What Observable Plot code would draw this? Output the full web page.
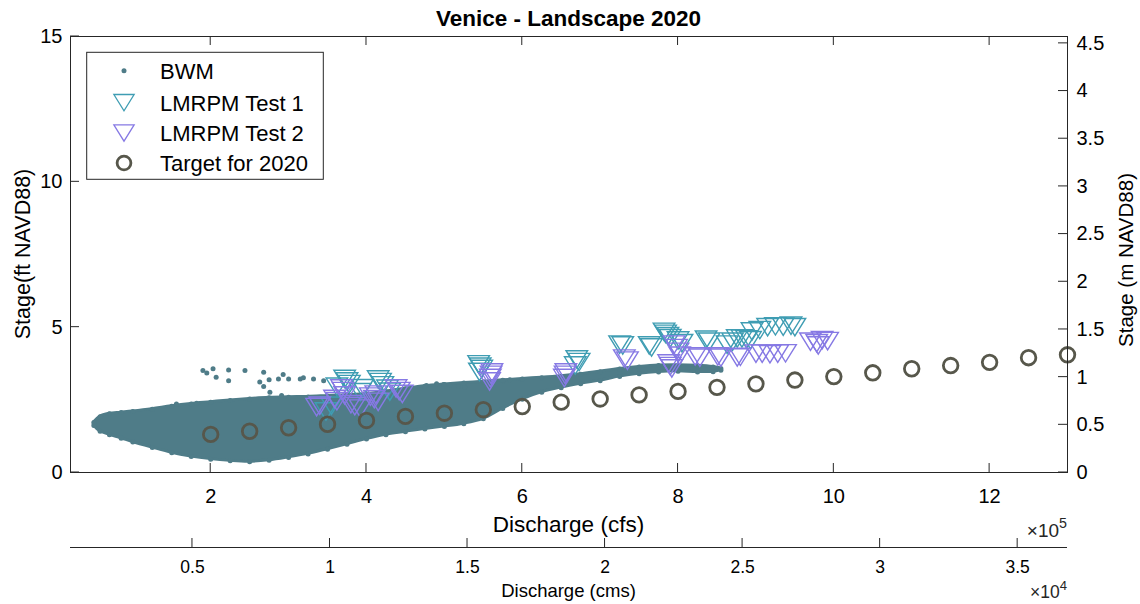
<!DOCTYPE html>
<html>
<head>
<meta charset="utf-8">
<script src="https://cdn.jsdelivr.net/npm/d3@7"></script>
<script src="https://cdn.jsdelivr.net/npm/@observablehq/plot@0.6"></script>
<style>
  body { margin: 0; background: #fff; font-family: "Liberation Sans", Arial, Helvetica, sans-serif; }
  #wrap { position: relative; width: 1140px; height: 604px; overflow: hidden; }
  #title { position: absolute; top: 6px; left: 0; width: 1137px; text-align: center;
           font-weight: bold; font-size: 22.5px; line-height: 25px; color: #000; }
  #chart { position: absolute; top: 30px; left: 0; }
</style>
</head>
<body>
<div id="wrap">
  <div id="title">Venice - Landscape 2020</div>
  <div id="chart"></div>
</div>
<script>
// ---------------- data ----------------
// x in 1e5 cfs, y in ft NAVD88
const cloudX    = [0.50,0.58,0.70,0.85,1.00,1.25,1.50,1.75,2.00,2.25,2.50,2.75,3.00,3.25,3.50,3.75,4.00,4.25,4.50,4.75,5.00,5.25,5.50,5.75,6.00,6.25,6.50,6.75,7.00,7.25,7.50,7.75,8.00,8.25,8.45,8.55];
const cloudHigh = [1.72,1.92,2.02,2.06,2.10,2.18,2.28,2.36,2.42,2.48,2.53,2.57,2.59,2.60,2.63,2.66,2.70,2.78,2.88,2.97,3.03,3.08,3.12,3.17,3.22,3.26,3.31,3.38,3.47,3.56,3.63,3.68,3.69,3.67,3.63,3.58];
const cloudLow  = [1.62,1.42,1.30,1.18,1.05,0.86,0.68,0.55,0.46,0.40,0.37,0.42,0.52,0.64,0.80,0.97,1.15,1.30,1.40,1.50,1.58,1.68,1.85,2.20,2.52,2.76,2.92,3.05,3.16,3.30,3.40,3.46,3.48,3.46,3.47,3.52];

const bwmOutX = [1.90,1.95,2.03,2.07,2.23,2.23,2.44,2.68,2.63,2.68,2.76,2.75,2.87,2.93,3.00,3.15,3.19,3.32,3.45,1.56,1.82,2.91,4.77,4.90,4.99,5.07,5.18,5.26,5.63,5.76,5.84];
const bwmOutY = [3.51,3.42,3.57,3.28,3.53,3.16,3.51,3.45,3.11,2.96,2.76,3.19,3.22,3.37,3.22,3.22,3.26,3.22,3.16,2.36,2.38,2.65,2.99,3.05,3.03,2.99,2.96,2.93,3.11,3.16,3.19];

const test1X = [3.72,3.75,3.78,3.62,3.95,3.92,4.15,4.18,4.21,4.27,4.30,3.48,3.55,
                5.44,5.46,5.48,5.45, 6.70,6.73,6.68,
                7.25,7.29,7.63,7.66,7.82,7.84,7.87,7.90,8.00,8.05,8.36,8.40,8.63,8.70,8.76,8.82,8.88,8.93,
                8.95,9.05,9.15,9.25,9.35,9.45,9.50];
const test1Y = [3.22,3.13,3.04,2.95,2.90,2.76,3.20,3.11,3.00,2.88,2.78,2.10,2.30,
                3.72,3.64,3.56,3.46, 3.89,3.80,3.68,
                4.40,4.37,4.37,4.30,4.84,4.77,4.69,4.62,4.54,4.45,4.57,4.50,4.40,4.50,4.61,4.61,4.58,4.55,
                4.85,4.90,5.00,5.03,5.02,5.05,5.00];

const test2X = [3.36,3.40,3.59,3.62,3.68,3.70,3.72,3.80,3.85,3.92,4.05,4.10,4.15,4.12,4.38,4.42,4.46,
                5.61,5.60,5.59,5.58, 6.56,6.55,6.54,
                7.31,7.35,7.88,7.90,7.92,7.95,7.98,8.00,8.02,8.22,8.28,8.51,8.55,8.76,8.80,
                9.00,9.08,9.18,9.28,9.38,9.70,9.78,9.85,9.92,9.80];
const test2Y = [2.25,2.30,2.53,2.45,2.89,2.80,2.65,2.35,2.28,2.20,2.61,2.52,2.43,2.68,2.89,2.80,2.70,
                3.44,3.36,3.25,3.13, 3.44,3.36,3.25,
                3.92,3.85,3.75,3.66,3.58,4.40,4.28,4.15,4.02,3.99,3.95,3.99,3.95,3.96,3.98,
                4.09,4.09,4.07,4.09,4.10,4.50,4.45,4.55,4.52,4.37];

const targetX = [2,2.5,3,3.5,4,4.5,5,5.5,6,6.5,7,7.5,8,8.5,9,9.5,10,10.5,11,11.5,12,12.5,13];
const targetY = [1.31,1.42,1.54,1.66,1.79,1.93,2.04,2.16,2.27,2.42,2.53,2.67,2.79,2.93,3.05,3.18,3.30,3.43,3.57,3.68,3.79,3.95,4.05];

const xTicks   = [2,4,6,8,10,12];              // 1e5 cfs
const yTicks   = [0,5,10,15];                  // ft
const mTicks   = [0,0.5,1,1.5,2,2.5,3,3.5,4,4.5]; // m
const cmsTicks = [0.5,1,1.5,2,2.5,3,3.5];      // 1e4 cms

const seriesNames = ["BWM","LMRPM Test 1","LMRPM Test 2","Target for 2020"];

const FT2M = 0.3048;
const CMS2CFS = 35.3147;              // 1 cms = 35.3147 cfs
const cmsToX = c => c * 1e4 * CMS2CFS / 1e5;

// ---------------- styles ----------------
const C_AX = "#262626", C_BWM = "#4f7c88", C_T1 = "#3f9db3", C_T2 = "#8679e4", C_TG = "#57574b";
const FONT = "Liberation Sans, Arial, Helvetica, sans-serif";
const TRI_R = 8.3;

const triDown = {
  draw(ctx, size) {
    const r = Math.sqrt(size / Math.PI);
    const w = r * 1.3, h = r * 1.05;
    ctx.moveTo(-w, -h); ctx.lineTo(w, -h); ctx.lineTo(0, h); ctx.closePath();
  }
};

const cloud = cloudX.map((x, i) => ({x, lo: cloudLow[i], hi: cloudHigh[i]}));
const outliers = bwmOutX.map((x, i) => ({x, y: bwmOutY[i]}));
const t1 = test1X.map((x, i) => ({x, y: test1Y[i]}));
const t2 = test2X.map((x, i) => ({x, y: test2Y[i]}));
const tg = targetX.map((x, i) => ({x, y: targetY[i]}));

const plot = Plot.plot({
  width: 1140,
  height: 574,
  marginTop: 6,
  marginBottom: 132,
  marginLeft: 70,
  marginRight: 73,
  style: {fontFamily: FONT, fontSize: "20px", color: C_AX, background: "transparent", overflow: "visible"},
  x: {domain: [0.2, 13]},
  y: {domain: [0, 15]},
  marks: [
    Plot.areaY(cloud, {x: "x", y1: "lo", y2: "hi", fill: C_BWM, stroke: C_BWM, strokeWidth: 3, strokeLinejoin: "round", curve: "catmull-rom"}),
    Plot.dot(outliers, {x: "x", y: "y", r: 2.5, fill: C_BWM}),
    Plot.dot(cloud, {x: "x", y: "hi", r: 2.5, fill: C_BWM}),
    Plot.dot(cloud, {x: "x", y: "lo", r: 2.5, fill: C_BWM}),
    Plot.dot(t1, {x: "x", y: "y", symbol: triDown, r: TRI_R, stroke: C_T1, strokeWidth: 1.4, fill: "none"}),
    Plot.dot(t2, {x: "x", y: "y", symbol: triDown, r: TRI_R, stroke: C_T2, strokeWidth: 1.4, fill: "none"}),
    Plot.dot(tg, {x: "x", y: "y", r: 7.3, stroke: C_TG, strokeWidth: 2.8, fill: "none"}),
    Plot.frame({stroke: C_AX, strokeWidth: 1}),
    Plot.axisY({anchor: "left", ticks: yTicks, tickSize: 0, tickPadding: 8, fontSize: 20, label: null, fill: "#000"}),
    Plot.axisY({anchor: "right", ticks: mTicks.map(m => m / FT2M), tickFormat: d => String(+(d * FT2M).toFixed(2)),
                tickSize: 0, tickPadding: 9, fontSize: 20, label: null, fill: "#000"}),
    Plot.axisX({anchor: "bottom", ticks: xTicks, tickSize: 0, tickPadding: 16, fontSize: 20, label: null, fill: "#000"}),
    Plot.ruleY([0], {dy: 75, stroke: C_AX, strokeWidth: 1}),
    Plot.axisX({anchor: "bottom", ticks: cmsTicks.map(cmsToX), tickFormat: d => String(+(d * 1e5 / CMS2CFS / 1e4).toFixed(2)),
                tickSize: 0, tickPadding: 13, dy: 75, fontSize: 17.5, label: null, fill: "#000"})
  ]
});

document.getElementById("chart").appendChild(plot);

// ---------------- post-render decorations using Plot's scales ----------------
const svg = d3.select(plot);
const sx = plot.scale("x"), sy = plot.scale("y");
const [x0, x1] = sx.range;
const yb = sy.apply(0), yt = sy.apply(15);
const TL = 9;
const g = svg.append("g").attr("stroke", C_AX).attr("stroke-width", 1).attr("fill", "none");
xTicks.forEach(v => {
  const X = sx.apply(v);
  g.append("line").attr("x1", X).attr("x2", X).attr("y1", yb).attr("y2", yb - TL);
  g.append("line").attr("x1", X).attr("x2", X).attr("y1", yt).attr("y2", yt + TL);
});
yTicks.forEach(v => {
  const Y = sy.apply(v);
  g.append("line").attr("x1", x0).attr("x2", x0 + TL).attr("y1", Y).attr("y2", Y);
});
mTicks.forEach(m => {
  const Y = sy.apply(m / FT2M);
  g.append("line").attr("x1", x1).attr("x2", x1 - TL).attr("y1", Y).attr("y2", Y);
});
const y2ax = yb + 75;
cmsTicks.forEach(c => {
  const X = sx.apply(cmsToX(c));
  g.append("line").attr("x1", X).attr("x2", X).attr("y1", y2ax).attr("y2", y2ax - TL);
});

const txt = svg.append("g").attr("font-family", FONT).attr("fill", "#000");
// axis labels
txt.append("text").attr("x", (x0 + x1) / 2).attr("y", 502).attr("text-anchor", "middle")
   .attr("font-size", 22.5).text("Discharge (cfs)");
txt.append("text").attr("x", (x0 + x1) / 2).attr("y", 567).attr("text-anchor", "middle")
   .attr("font-size", 18.5).text("Discharge (cms)");
txt.append("text").attr("transform", `translate(30,${(yb + yt) / 2}) rotate(-90)`).attr("text-anchor", "middle")
   .attr("font-size", 21.5).text("Stage(ft NAVD88)");
txt.append("text").attr("transform", `translate(1133,${(yb + yt) / 2 + 6}) rotate(-90)`).attr("text-anchor", "middle")
   .attr("font-size", 20.5).text("Stage (m NAVD88)");
// exponent labels
function expo(xr, yBase, fs, e) {
  const t = txt.append("text").attr("x", xr).attr("y", yBase).attr("text-anchor", "end").attr("font-size", fs).attr("fill", C_AX);
  t.append("tspan").text("\u00d710");
  t.append("tspan").attr("dy", -fs * 0.45).attr("font-size", fs * 0.75).text(e);
}
expo(x1, 507, 19, "5");
expo(x1, 568, 17.5, "4");

// legend
const L = svg.append("g");
const lx = 86.7, ly = 22.3, lw = 236.6, lh = 127;
L.append("rect").attr("x", lx).attr("y", ly).attr("width", lw).attr("height", lh)
 .attr("fill", "#fff").attr("stroke", C_AX).attr("stroke-width", 1);
const rowsY = [40.7, 72.7, 103, 133];
const symX = 124, textX = 160;
L.append("circle").attr("cx", symX).attr("cy", rowsY[0]).attr("r", 2.5).attr("fill", C_BWM);
const triPath = d3.symbol(triDown, 7.8 * 7.8 * Math.PI)();
L.append("path").attr("d", triPath).attr("transform", `translate(${symX},${rowsY[1]})`)
 .attr("fill", "none").attr("stroke", C_T1).attr("stroke-width", 1.3);
L.append("path").attr("d", triPath).attr("transform", `translate(${symX},${rowsY[2]})`)
 .attr("fill", "none").attr("stroke", C_T2).attr("stroke-width", 1.3);
L.append("circle").attr("cx", symX).attr("cy", rowsY[3]).attr("r", 6.9).attr("fill", "none")
 .attr("stroke", C_TG).attr("stroke-width", 2.8);
seriesNames.forEach((n, i) => {
  L.append("text").attr("x", textX).attr("y", rowsY[i] + 8).attr("font-family", FONT)
   .attr("text-anchor", "start").attr("font-size", 22).attr("fill", "#000").text(n);
});
</script>
</body>
</html>
